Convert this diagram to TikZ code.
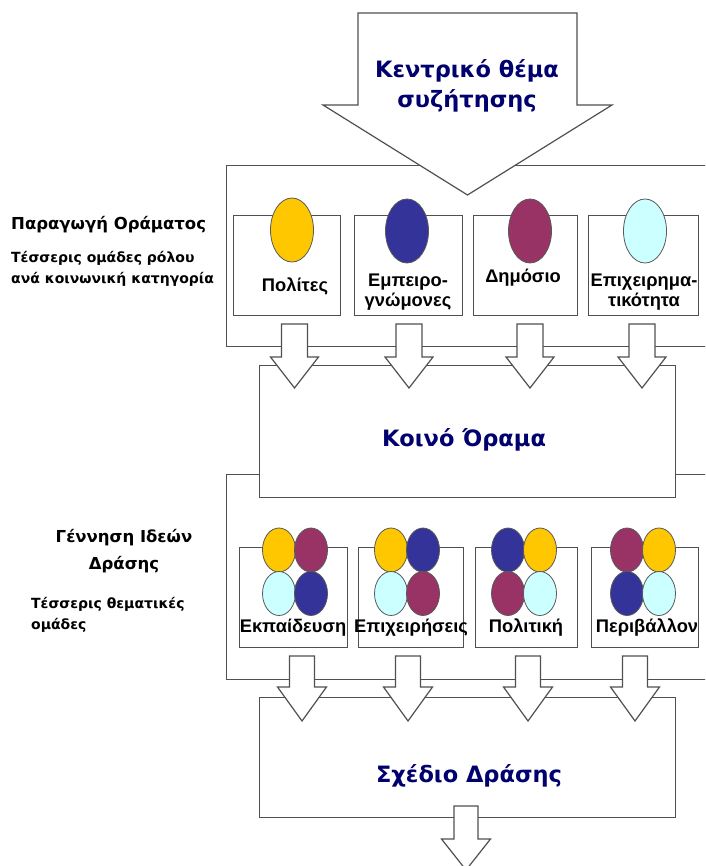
\documentclass[tikz,border=0pt]{standalone}
\usepackage{fontspec}
\setmainfont{Liberation Sans}
\newfontfamily\headfont{DejaVu Sans}
\usepackage{xcolor}
\usepackage{tikz}
\usetikzlibrary{positioning, shapes.geometric}

\definecolor{navytext}{RGB}{0,0,110}
\definecolor{roleyellow}{RGB}{255,199,0}
\definecolor{roleblue}{RGB}{51,51,153}
\definecolor{rolewine}{RGB}{153,51,102}
\definecolor{rolecyan}{RGB}{204,255,255}
\definecolor{framegray}{RGB}{80,80,80}

% hollow block arrow pointing down: x, top, shaft half, head half, shaft length, head length
\newcommand{\hollowdown}[6]{%
  \draw[hollow] (#1-#3,#2) -- (#1+#3,#2) -- (#1+#3,#2+#5) -- (#1+#4,#2+#5)
    -- (#1,#2+#5+#6) -- (#1-#4,#2+#5) -- (#1-#3,#2+#5) -- cycle;}

\begin{document}
\begin{tikzpicture}[x=1pt, y=-1pt,
    frame/.style={draw=framegray, line width=1.2pt},
    box/.style={frame, rectangle, fill=white, anchor=north west, inner sep=0pt},
    hollow/.style={frame, fill=white, line join=miter},
    blob/.style={ellipse, draw=black!65, line width=0.8pt, inner sep=0pt},
    bigblob/.style={blob, minimum width=43pt, minimum height=64pt},
    smallblob/.style={blob, minimum width=33pt, minimum height=44pt},
    boxlabel/.style={font=\bfseries\fontsize{18.3}{20}\selectfont, align=center, inner sep=0pt},
    sidehead/.style={font=\headfont\bfseries\fontsize{16.5}{27}\selectfont, inner sep=0pt},
    sidetext/.style={font=\headfont\bfseries\fontsize{14}{21.5}\selectfont, inner sep=0pt, anchor=west, align=left},
    stagetitle/.style={font=\headfont\bfseries\fontsize{22.5}{30}\selectfont, text=navytext, align=center}]
    \clip (0,0) rectangle (705,866);

    % upper stage: vision
    \node [box, minimum width=489pt, minimum height=181pt] (vision) at (226,165) {};
    \hollowdown{467.5}{13}{109.5}{144.5}{92}{90}
    \node [stagetitle] (topic) at (467,86) {Κεντρικό θέμα\\συζήτησης};

    \node [box, minimum width=107pt, minimum height=100pt] (citizens) at (233,215) {};
    \node [box, minimum width=108pt, minimum height=100pt] (experts) at (354,215) {};
    \node [box, minimum width=104pt, minimum height=100pt] (public) at (473,215) {};
    \node [box, minimum width=110pt, minimum height=100pt] (business) at (588,215) {};

    \node [bigblob, fill=roleyellow] (citizens-e) at (292,230) {};
    \node [bigblob, fill=roleblue] (experts-e) at (407,231) {};
    \node [bigblob, fill=rolewine] (public-e) at (530,231) {};
    \node [bigblob, fill=rolecyan] (business-e) at (645,231) {};

    \node [boxlabel] (citizens-t) at (295,286) {Πολίτες};
    \node [boxlabel] (experts-t) at (408,292) {Εμπειρο-\\γνώμονες};
    \node [boxlabel] (public-t) at (523,278) {Δημόσιο};
    \node [boxlabel] (business-t) at (644,292) {Επιχειρημα-\\τικότητα};

    \node [sidehead, anchor=west] (vision-h) at (11,225) {Παραγωγή Οράματος};
    \node [sidetext] (vision-d) at (11,269) {Τέσσερις ομάδες ρόλου\\ανά κοινωνική κατηγορία};

    % lower stage: action ideas
    \node [box, minimum width=489pt, minimum height=205pt] (ideas) at (226,474) {};
    \node [box, minimum width=416pt, minimum height=132pt] (shared) at (259,365) {};
    \node [stagetitle] (shared-t) at (464,440) {Κοινό Όραμα};

    \foreach \x in {294.5, 409, 530, 642} {
        \hollowdown{\x}{324}{13}{24}{33}{31}
    }

    \node [box, minimum width=108pt, minimum height=100pt] (education) at (239,547) {};
    \node [box, minimum width=105pt, minimum height=100pt] (enterprise) at (358,547) {};
    \node [box, minimum width=102pt, minimum height=100pt] (policy) at (475,547) {};
    \node [box, minimum width=107pt, minimum height=100pt] (environment) at (591,547) {};

    \foreach \cx/\name/\ca/\cb/\cc/\cd in {
        295/education/roleyellow/rolewine/rolecyan/roleblue,
        407/enterprise/roleyellow/roleblue/rolecyan/rolewine,
        524/policy/roleblue/roleyellow/rolewine/rolecyan,
        643/environment/rolewine/roleyellow/roleblue/rolecyan} {
        \node [smallblob, fill=\ca] (\name-a) at (\cx-16,550) {};
        \node [smallblob, fill=\cb] (\name-b) at (\cx+16,550) {};
        \node [smallblob, fill=\cc] (\name-c) at (\cx-16,593.5) {};
        \node [smallblob, fill=\cd] (\name-d) at (\cx+16,593.5) {};
    }

    \node [boxlabel] (education-t) at (293,628) {Εκπαίδευση};
    \node [boxlabel] (enterprise-t) at (411,628) {Επιχειρήσεις};
    \node [boxlabel] (policy-t) at (526,628) {Πολιτική};
    \node [boxlabel] (environment-t) at (647,628) {Περιβάλλον};

    \node [sidehead, align=center] (ideas-h) at (124,551) {Γέννηση Ιδεών\\Δράσης};
    \node [sidetext] (ideas-d) at (31,615) {Τέσσερις θεματικές\\ομάδες};

    % action plan
    \node [box, minimum width=416pt, minimum height=120pt] (plan) at (259,697) {};
    \node [stagetitle] (plan-t) at (469,776) {Σχέδιο Δράσης};

    \foreach \x in {302, 408, 528, 635} {
        \hollowdown{\x}{656}{12.5}{24.5}{31}{34}
    }
    \hollowdown{466}{806}{12}{24.5}{33}{31}
\end{tikzpicture}
\end{document}
